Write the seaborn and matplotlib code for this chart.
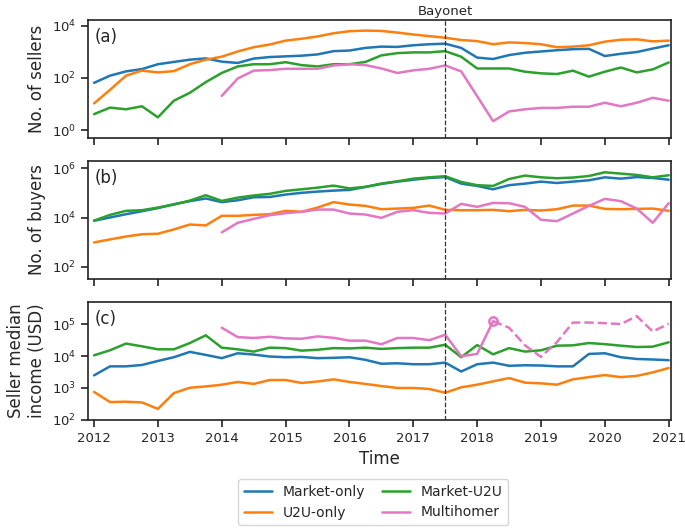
import numpy as np
import pandas as pd
import seaborn as sns
from matplotlib import pyplot as plt
from matplotlib.ticker import NullLocator

# quarterly time axis 2012.00 .. 2021.00
time = np.arange(37) * 0.25 + 2012
groups = ['Market-only', 'U2U-only', 'Market-U2U', 'Multihomer']
colors = ['#1f77b4', '#ff7f0e', '#2ca02c', '#e377c2']

# (a) number of sellers
sellers_market = [65, 122, 178, 218, 335, 410, 500, 560, 420, 375, 550, 630, 670, 710, 795, 1060, 1120, 1410, 1580,
                  1540, 1780, 1950, 2050, 1410, 600, 530, 750, 920, 1030, 1150, 1260, 1300, 690, 840, 980, 1330, 1780]
sellers_u2u = [10.6, 35, 122, 190, 163, 182, 335, 500, 650, 1030, 1500, 1900, 2680, 3160, 3880, 5130, 6150, 6500, 6300,
               5450, 4600, 3980, 3460, 2820, 2570, 1950, 2290, 2170, 1950, 1500, 1580, 1780, 2450, 2900, 3000, 2510, 2680]
sellers_mu2u = [4.1, 7.3, 6.3, 8.2, 3.1, 13.4, 27, 69, 155, 275, 335, 335, 400, 310, 275, 335, 335, 410, 730, 890, 950,
                950, 1060, 650, 230, 230, 230, 173, 150, 141, 190, 112, 173, 250, 163, 212, 390]
sellers_multi = [np.nan] * 8 + [20.5, 95, 190, 200, 224, 224, 224, 300, 335, 310, 230, 155, 195, 224, 300, 178, 20,
                                2.2, 5.2, 6.3, 7.1, 7.1, 7.9, 7.9, 11.2, 8.2, 11.2, 17.3, 13.4]

# (b) number of buyers
buyers_market = [7400, 10000, 13600, 18000, 24000, 34600, 46000, 59000, 42000, 50000, 66000, 68000, 85000, 100000,
                 112000, 123000, 131000, 174000, 230000, 284000, 340000, 400000, 435000, 236000, 190000, 139000,
                 204000, 236000, 284000, 250000, 284000, 322000, 425000, 375000, 435000, 400000, 340000]
buyers_u2u = [980, 1300, 1700, 2100, 2200, 3300, 5200, 4800, 11700, 11700, 12800, 13600, 18600, 17000, 25300, 42000,
              33500, 29600, 21700, 23000, 24500, 30500, 20400, 19800, 19800, 20400, 18000, 20400, 19200, 21700, 30500,
              30500, 22400, 21700, 22400, 23000, 18600]
buyers_mu2u = [7500, 12800, 18600, 19800, 25300, 33500, 48500, 80000, 47000, 64000, 78000, 91000, 120000, 139000,
               162000, 196000, 152000, 174000, 236000, 293000, 375000, 425000, 470000, 275000, 204000, 190000, 363000,
               500000, 425000, 390000, 415000, 480000, 680000, 600000, 530000, 425000, 515000]
buyers_multi = [np.nan] * 8 + [2500, 6100, 8800, 12400, 15000, 17000, 21000, 21000, 14500, 13200, 9700, 17000, 19800,
                               15500, 14500, 35700, 27000, 39000, 38000, 27000, 8100, 7100, 14500, 29600, 57000, 46000,
                               23000, 6100, 38000]

# (c) seller median income (USD)
income_market = [2500, 4800, 4800, 5300, 7100, 9300, 13700, 11000, 8700, 12400, 11300, 9800, 9300, 9500, 8700, 8900,
                 9300, 7700, 5800, 6000, 5600, 5600, 6300, 3300, 5600, 6300, 5000, 5200, 5100, 4800, 4800, 11800,
                 12400, 9300, 8200, 7900, 7500]
income_u2u = [750, 360, 370, 350, 220, 690, 1020, 1120, 1270, 1550, 1340, 1780, 1780, 1440, 1600, 1870, 1550, 1340,
              1150, 1000, 1000, 930, 710, 1050, 1270, 1620, 2050, 1470, 1400, 1270, 1870, 2200, 2550, 2200, 2400,
              3100, 4250]
income_mu2u = [10700, 15400, 25000, 20500, 16500, 16500, 26000, 45500, 18600, 16500, 14000, 18600, 18000, 15000, 16000,
               18000, 17600, 18600, 17000, 18000, 18600, 18600, 23000, 9300, 22500, 11500, 18000, 14000, 15400, 21500,
               22000, 26000, 24000, 21500, 19500, 20000, 27500]
income_multi = [np.nan] * 8 + [79000, 40000, 37500, 41000, 36500, 35500, 42000, 38000, 31000, 31000, 23800, 37500,
                               37500, 32000, 47500, 10000, 11800, 127000, 79000, 22000, 9500, 28000, 115000, 115000,
                               110000, 103000, 183000, 60000, 105000]
multi_split = 25  # index of 2018.25, multihomer income dashed from here on

df = pd.DataFrame({'time': time})
panels = [
    ('No. of sellers', '(a)', [sellers_market, sellers_u2u, sellers_mu2u, sellers_multi],
     [1, 100, 10000], (10 ** -0.29, 10 ** 4.21)),
    ('No. of buyers', '(b)', [buyers_market, buyers_u2u, buyers_mu2u, buyers_multi],
     [100, 10000, 1000000], (10 ** 1.52, 10 ** 6.28)),
    ('Seller median\nincome (USD)', '(c)', [income_market, income_u2u, income_mu2u, income_multi],
     [100, 1000, 10000, 100000], (100, 10 ** 5.7)),
]

sns.set_theme(style='ticks')
plt.rcParams['font.family'] = ['DejaVu Sans']
fig, axes = plt.subplots(3, 1, figsize=(6.85, 5.32), dpi=100, sharex=True)
fig.subplots_adjust(left=0.128, right=0.979, top=0.962, bottom=0.211, hspace=0.2)

for ax, (ylabel, tag, series, yticks, ylim) in zip(axes, panels):
    for name, vals, c in zip(groups, series, colors):
        d = df.assign(value=vals)
        if tag == '(c)' and name == 'Multihomer':
            sns.lineplot(data=d.iloc[:multi_split + 1], x='time', y='value', color=c, lw=1.8, ax=ax, label=name)
            sns.lineplot(data=d.iloc[multi_split:], x='time', y='value', color=c, lw=1.8, ls='--', ax=ax)
            ax.plot(time[multi_split], vals[multi_split], 'o', mfc='none', mec=c, ms=6, mew=1.8)
        else:
            sns.lineplot(data=d, x='time', y='value', color=c, lw=1.8, ax=ax, label=name)
    ax.set_yscale('log')
    ax.set_ylim(*ylim)
    ax.set_yticks(yticks)
    ax.yaxis.set_minor_locator(NullLocator())
    ax.axvline(2017.5, color='#333333', ls='--', lw=0.9)
    ax.text(0.012, 0.93, tag, transform=ax.transAxes, ha='left', va='top', fontsize=12)
    ax.set_ylabel(ylabel, fontsize=12)
    ax.set_xlabel('')
    ax.get_legend().remove()
    for s in ax.spines.values():
        s.set_linewidth(1.2)
        s.set_color('#222222')
    ax.tick_params(labelsize=9.5, width=1.2, length=5, color='#222222')

axes[0].set_xlim(2011.9, 2021.03)
axes[2].set_xticks(range(2012, 2022))
axes[2].set_xlabel('Time', fontsize=12)
axes[0].text(2017.5, 10 ** 4.3, 'Bayonet', ha='center', va='bottom', fontsize=9.5)

handles, labels = axes[0].get_legend_handles_labels()
fig.legend(handles, labels, loc='lower center', bbox_to_anchor=(0.545, 0.0), ncol=2, fontsize=10,
           frameon=True, fancybox=True, columnspacing=1.2)

fig.savefig('out.png', dpi=100)
